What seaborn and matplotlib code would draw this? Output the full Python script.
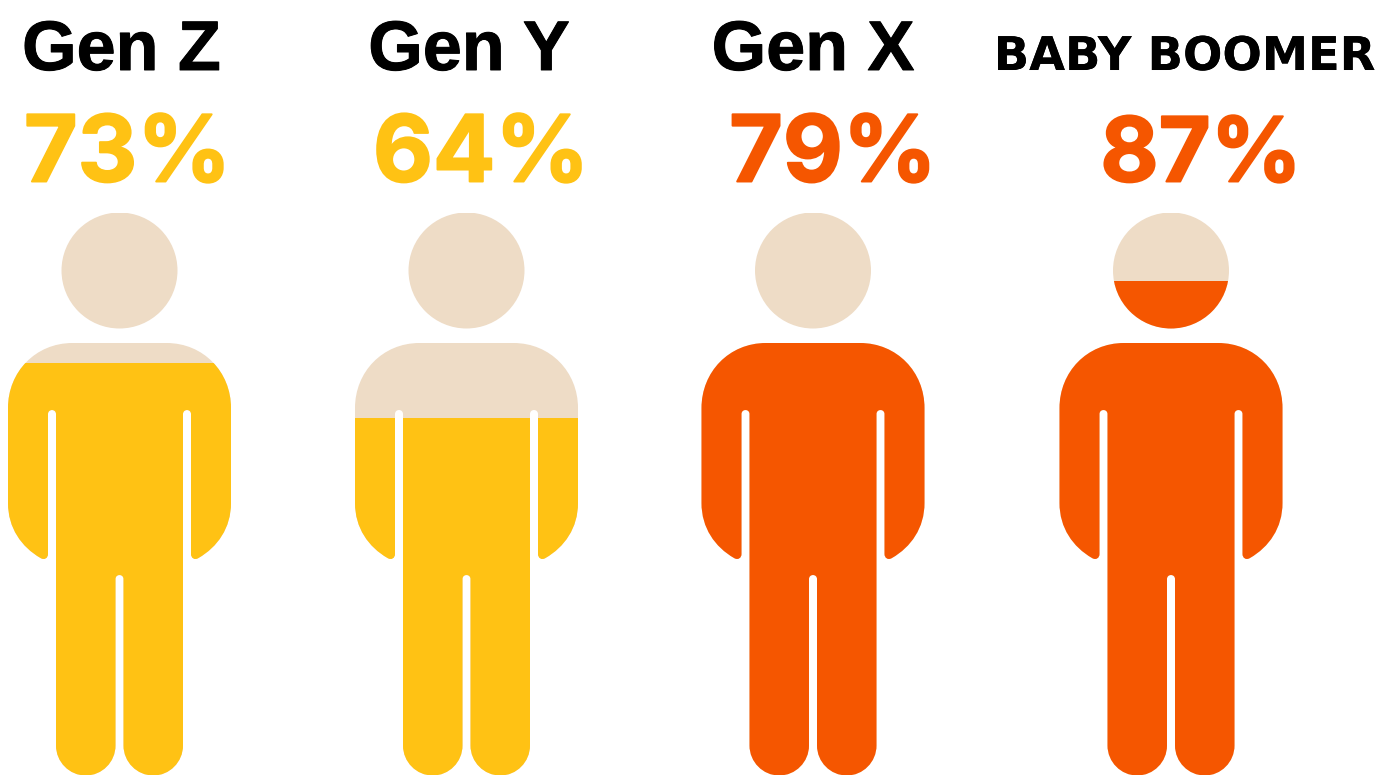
import numpy as np
import pandas as pd
import matplotlib
matplotlib.use("Agg")
import matplotlib.pyplot as plt
import matplotlib.patheffects as pe
from matplotlib.path import Path
import seaborn as sns

# ---- data ----
groups = ["Gen Z", "Gen Y", "Gen X", "BABY BOOMER"]
percent_labels = ["73%", "64%", "79%", "87%"]
fill_levels = [73.2, 63.4, 79.0, 87.9]      # share of the figure's height that is filled
full_level = [100, 100, 100, 100]
figure_centres = [119.5, 466.5, 813, 1171]
bar_colors = ["#FFC214", "#FFC214", "#F55600", "#F55600"]
back_color = "#EEDCC6"

W, H = 1384, 775
PERSON_TOP, PERSON_BOTTOM = 212.5, 775.0


def lvl(py):
    """pixel row -> percent of the person's height"""
    return (PERSON_BOTTOM - np.asarray(py, float)) / (PERSON_BOTTOM - PERSON_TOP) * 100


def person_path(cx):
    M, L, C = Path.MOVETO, Path.LINETO, Path.CURVE4
    v = [(0, 343)]
    c = [M]

    def line(p):
        v.append(p); c.append(L)

    def curve(a, b, p):
        v.extend([a, b, p]); c.extend([C, C, C])

    line((47, 343))
    curve((84, 343), (111.5, 372), (111.5, 408))
    line((111.5, 503))
    curve((111.5, 528), (98, 547), (79, 558))
    curve((75, 560.5), (71.5, 558), (71.5, 554))
    line((71.5, 414))
    curve((71.5, 408.7), (63.5, 408.7), (63.5, 414))
    line((63.5, 745.5))
    curve((63.5, 762), (50, 775.5), (33.8, 775.5))
    curve((17.5, 775.5), (4, 762), (4, 745.5))
    line((4, 579))

    right = np.array(v, float)
    left = right[:-1][::-1] * np.array([-1, 1])
    lc = c[1:][::-1]
    gap = np.array([(4, 573.7), (-4, 573.7), (-4, 579)], float)
    verts = np.vstack([right, gap, left])
    codes = list(c) + [C, C, C] + list(lc)
    body = Path(np.column_stack([verts[:, 0] + cx, lvl(verts[:, 1])]), codes)

    uc = Path.unit_circle()
    head = Path(np.column_stack([uc.vertices[:, 0] * 58 + cx, lvl(uc.vertices[:, 1] * 58 + 270.5)]), uc.codes)
    return Path.make_compound_path(body, head)


sns.set_theme(style="white")
fig = plt.figure(figsize=(W / 100, H / 100), dpi=100, facecolor="white")
ax = fig.add_axes([0, 0, 1, 1])

df = pd.DataFrame({"group": groups, "centre": figure_centres,
                   "full": full_level, "fill": fill_levels})

sns.barplot(data=df, x="centre", y="full", native_scale=True, color=back_color,
            saturation=1, width=0.8, ax=ax, errorbar=None)
sns.barplot(data=df, x="centre", y="fill", hue="group", hue_order=groups,
            palette=dict(zip(groups, bar_colors)), native_scale=True, dodge=False,
            saturation=1, width=0.8, legend=False, ax=ax, errorbar=None)

ax.set_xlim(0, W)
ax.set_ylim(0, lvl(0))
ax.axis("off")

bars = [p for p in ax.patches if p.get_height() > 0]
for bar in bars:
    mid = bar.get_x() + bar.get_width() / 2
    cx = min(figure_centres, key=lambda c: abs(c - mid))
    bar.set_linewidth(0)
    bar.set_clip_path(person_path(cx), transform=ax.transData)

# titles
title_x = [121.5, 469, 813, 1184.5]
title_font = ["Liberation Sans", "Liberation Sans", "Liberation Sans", "DejaVu Sans"]
title_size = [50.5, 50.5, 50.5, 33.4]
title_stroke = [0.7, 0.7, 0.7, 0.01]
for x, t, f, s, sw in zip(title_x, groups, title_font, title_size, title_stroke):
    ax.text(x, lvl(70), t, ha="center", va="baseline", fontfamily=f, fontsize=s,
            fontweight="bold", color="black",
            path_effects=[pe.withStroke(linewidth=sw, foreground="black")])

# percent labels
pct_x = [127.5, 481, 833, 1201]
pct_size = [66.5, 66.5, 66.5, 64.5]
for x, t, col, s in zip(pct_x, percent_labels, bar_colors, pct_size):
    ax.text(x, lvl(181.5), t, ha="center", va="baseline", fontfamily="Inter", fontsize=s,
            fontweight="bold", color=col,
            path_effects=[pe.withStroke(linewidth=1.4, foreground=col)])

fig.savefig("out.png", dpi=100, facecolor="white")
